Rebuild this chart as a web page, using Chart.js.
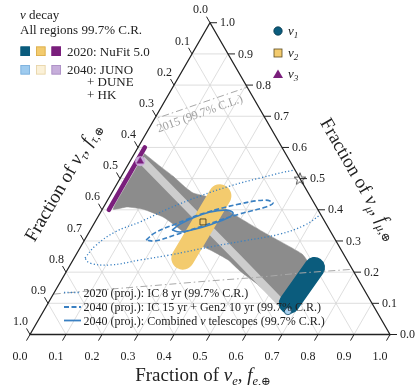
<!DOCTYPE html>
<html><head><meta charset="utf-8">
<script src="https://cdn.jsdelivr.net/npm/chart.js@4/dist/chart.umd.min.js"></script>
<style>html,body{margin:0;padding:0;background:#fff}#wrap{width:420px;height:385px;position:relative}</style>
</head><body><div id="wrap"><canvas id="c"></canvas></div>
<script>
// ---------- data: ternary fractions [f_e, f_mu]  (f_tau = 1 - f_e - f_mu) ----------
const tickValues = [0, 0.1, 0.2, 0.3, 0.4, 0.5, 0.6, 0.7, 0.8, 0.9, 1.0];
const tickLabels = ['0.0','0.1','0.2','0.3','0.4','0.5','0.6','0.7','0.8','0.9','1.0'];
const gridValues = [0.1, 0.2, 0.3, 0.4, 0.5, 0.6, 0.7, 0.8, 0.9];

const decay2020Region = [[0.028,0.580],[0.091,0.540],[0.143,0.508],[0.194,0.473],[0.226,0.454],[0.264,0.444],[0.298,0.431],[0.359,0.393],[0.483,0.329],[0.582,0.281],[0.627,0.258],[0.652,0.236],[0.663,0.207],[0.671,0.159],[0.667,0.111],[0.663,0.079],[0.634,0.104],[0.550,0.162],[0.481,0.204],[0.431,0.239],[0.372,0.268],[0.329,0.287],[0.277,0.319],[0.236,0.345],[0.181,0.377],[0.113,0.402],[0.065,0.409],[0.030,0.402],[0.028,0.490],[0.028,0.580]];
const decay2040Band = [[0.030,0.560],[0.240,0.404],[0.464,0.238],[0.655,0.095]];
const nu1Region2020 = [[0.683,0.215],[0.670,0.100]];
const nu2Region2020 = [[0.305,0.445],[0.302,0.245]];
const nu3Region2020 = [[0.019,0.600],[0.019,0.400]];
const ic2020Dotted = [[0.030,0.245],[0.039,0.284],[0.072,0.329],[0.125,0.361],[0.186,0.406],[0.250,0.444],[0.317,0.476],[0.388,0.502],[0.472,0.528],[0.535,0.540],[0.605,0.512],[0.643,0.463],[0.638,0.419],[0.614,0.383],[0.588,0.351],[0.533,0.322],[0.442,0.300],[0.360,0.281],[0.261,0.255],[0.186,0.239],[0.111,0.223],[0.052,0.229],[0.030,0.245]];
const ic2040Dashed = [[0.171,0.303],[0.184,0.326],[0.226,0.354],[0.291,0.390],[0.374,0.419],[0.437,0.431],[0.464,0.422],[0.451,0.409],[0.390,0.387],[0.311,0.351],[0.243,0.319],[0.197,0.300],[0.171,0.303]];
const combined2040Solid = [[0.227,0.335],[0.240,0.354],[0.270,0.377],[0.304,0.393],[0.342,0.399],[0.369,0.390],[0.363,0.374],[0.328,0.354],[0.289,0.338],[0.252,0.329],[0.227,0.335]];
const contour2015 = [[-0.043,0.669],[0.000,0.691],[0.105,0.743],[0.209,0.794],[0.257,0.819],[0.838,0.213],[0.731,0.204],[0.651,0.197],[0.547,0.184],[0.414,0.172],[0.256,0.156],[0.123,0.143],[0.005,0.130],[-0.040,0.125],[-0.043,0.669]];
const nu1Point = [0.679,0.075];
const nu2Point = [0.300,0.361];
const nu3Point = [0.028,0.556];
const sourcePoint = [0.5,0.5];

// ---------- helpers ----------
const S3 = Math.sqrt(3)/2;
const tern = p => ({x: p[0] + p[1]/2, y: p[1]*S3});
const T = arr => arr.map(tern);
const SERIF = '"Liberation Serif", "DejaVu Serif", serif';
const BLUE = '#0b5c7d', YEL = '#f3cb6e', PUR = '#7a1f7c', LINE = '#3a80c2';

const gridPts = [];
for (const v of gridValues) {
  gridPts.push(tern([v,1-v]), tern([v,0]), {x:null,y:null});
  gridPts.push(tern([0,v]), tern([1-v,v]), {x:null,y:null});
  gridPts.push(tern([1-v,0]), tern([0,1-v]), {x:null,y:null});
}

function starImg(){
  const c = document.createElement('canvas'); c.width = 16; c.height = 16;
  const g = c.getContext('2d'); g.beginPath();
  for (let i=0;i<10;i++){ const r = i%2?2.7:6.3; const a = -Math.PI/2 + i*Math.PI/5;
    const px = 8 + r*Math.cos(a), py = 8.5 + r*Math.sin(a); i?g.lineTo(px,py):g.moveTo(px,py); }
  g.closePath(); g.fillStyle='#fff'; g.fill(); g.strokeStyle='#555'; g.lineWidth=1; g.stroke();
  return c;
}

function rich(ctx, segs, x, y, angle, align){
  ctx.save(); ctx.translate(x,y); ctx.rotate(angle||0);
  ctx.textBaseline='alphabetic'; ctx.textAlign='left';
  let w=0; for (const s of segs){ ctx.font=s[1]; w+=ctx.measureText(s[0]).width; }
  let cx = align==='center' ? -w/2 : (align==='right' ? -w : 0);
  for (const s of segs){ ctx.font=s[1]; ctx.fillText(s[0], cx, s[2]||0); cx+=ctx.measureText(s[0]).width; }
  ctx.restore();
}

function triPath(chart){
  const xs=chart.scales.x, ys=chart.scales.y;
  const P = p => { const t=tern(p); return [xs.getPixelForValue(t.x), ys.getPixelForValue(t.y)]; };
  return [P([0,0]), P([1,0]), P([0,1])];
}

const clipPlugin = {
  id:'triClip',
  beforeDatasetDraw(chart,args){
    const ds = chart.data.datasets[args.index]; if(!ds.clipTri) return;
    const ctx = chart.ctx, t = triPath(chart);
    ctx.save(); ctx.beginPath(); ctx.moveTo(t[0][0],t[0][1]); ctx.lineTo(t[1][0],t[1][1]); ctx.lineTo(t[2][0],t[2][1]); ctx.closePath(); ctx.clip();
  },
  afterDatasetDraw(chart,args){
    const ds = chart.data.datasets[args.index]; if(ds.clipTri) chart.ctx.restore();
  }
};

const decoPlugin = {
  id:'deco',
  afterDatasetsDraw(chart){
    const ctx = chart.ctx, xs=chart.scales.x, ys=chart.scales.y;
    const P = p => { const t=tern(p); return [xs.getPixelForValue(t.x), ys.getPixelForValue(t.y)]; };
    const [tl, br, top] = [P([0,0]), P([1,0]), P([0,1])];
    ctx.save();
    // frame
    ctx.strokeStyle='#222'; ctx.lineWidth=1.3; ctx.lineJoin='miter';
    ctx.beginPath(); ctx.moveTo(tl[0],tl[1]); ctx.lineTo(br[0],br[1]); ctx.lineTo(top[0],top[1]); ctx.closePath(); ctx.stroke();
    // ticks & labels
    ctx.lineWidth=1; ctx.fillStyle='#222'; ctx.font='12px '+SERIF; ctx.textBaseline='middle';
    tickValues.forEach((v,i)=>{
      let b = P([v,0]);
      ctx.beginPath(); ctx.moveTo(b[0],b[1]); ctx.lineTo(b[0]-3.5,b[1]+6.1); ctx.stroke();
      ctx.textAlign='center'; ctx.fillText(tickLabels[i], b[0]-10, b[1]+22);
      b = P([0,1-v]);
      ctx.beginPath(); ctx.moveTo(b[0],b[1]); ctx.lineTo(b[0]-3.5,b[1]-6.1); ctx.stroke();
      ctx.textAlign='center'; ctx.fillText(tickLabels[i], b[0]-9.5, b[1]-12.5);
      b = P([1-v,v]);
      ctx.beginPath(); ctx.moveTo(b[0],b[1]); ctx.lineTo(b[0]+7,b[1]); ctx.stroke();
      ctx.textAlign='left'; ctx.fillText(tickLabels[i], b[0]+10, b[1]+0.5);
    });
    // axis titles
    ctx.fillStyle='#222';
    const F=size=>size+'px '+SERIF, I=size=>'italic '+size+'px '+SERIF;
    const title = (sub)=>[['Fraction of ',F(19)],['ν',I(19)],[sub,I(12.5),4],[', ',F(19)],['f',I(19)],[sub+',',I(12.5),4],['⊕',F(11.5),4]];
    rich(ctx, title('e'), 203, 381, 0, 'center');
    rich(ctx, title('τ'), 68, 185, -Math.PI/3, 'center');
    rich(ctx, title('μ'), 354, 182, Math.PI/3, 'center');
    // 2015 label
    ctx.fillStyle='#a0a0a0';
    rich(ctx, [['2015 (99.7% C.L.)',F(12)]], 201, 117, -0.35, 'center');
    // top-left legend
    ctx.fillStyle='#222';
    rich(ctx, [['ν',I(13)],[' decay',F(13)]], 20, 18.5, 0, 'left');
    rich(ctx, [['All regions 99.7% C.R.',F(13)]], 20, 33.5, 0, 'left');
    const sq = (x,y,fill,stroke)=>{ ctx.fillStyle=fill; ctx.fillRect(x,y,9.5,9.5); ctx.strokeStyle=stroke; ctx.lineWidth=0.8; ctx.strokeRect(x+0.4,y+0.4,8.7,8.7); };
    sq(20.5,46.5,BLUE,BLUE); sq(36,46.5,YEL,'#d9ac4c'); sq(51.5,46.5,PUR,PUR);
    sq(20.5,65,'#9ecbef','#7aaedb'); sq(36,65,'#fbf1d8','#e6d3a6'); sq(51.5,65,'#c7aedb','#a98dc2');
    ctx.fillStyle='#222';
    rich(ctx, [['2020: NuFit 5.0',F(13)]], 67, 55.5, 0, 'left');
    rich(ctx, [['2040: JUNO',F(13)]], 67, 74, 0, 'left');
    rich(ctx, [['+ DUNE',F(13)]], 87, 86, 0, 'left');
    rich(ctx, [['+ HK',F(13)]], 87, 99, 0, 'left');
    // top-right legend
    ctx.beginPath(); ctx.arc(278,31,4.2,0,2*Math.PI); ctx.fillStyle=BLUE; ctx.fill(); ctx.strokeStyle='#06384d'; ctx.lineWidth=0.8; ctx.stroke();
    ctx.fillStyle=YEL; ctx.fillRect(274,49,8,8); ctx.strokeStyle='#5a4a20'; ctx.strokeRect(274,49,8,8);
    ctx.beginPath(); ctx.moveTo(278,69.5); ctx.lineTo(283,78); ctx.lineTo(273,78); ctx.closePath(); ctx.fillStyle=PUR; ctx.fill();
    ctx.fillStyle='#222';
    rich(ctx, [['ν',I(13)],['1',I(9),3]], 288, 34.5, 0, 'left');
    rich(ctx, [['ν',I(13)],['2',I(9),3]], 288, 56.5, 0, 'left');
    rich(ctx, [['ν',I(13)],['3',I(9),3]], 288, 78, 0, 'left');
    // bottom line legend
    const sample=(y,dash,w)=>{ ctx.beginPath(); ctx.setLineDash(dash); ctx.strokeStyle=LINE; ctx.lineWidth=w; ctx.moveTo(64,y); ctx.lineTo(81,y); ctx.stroke(); ctx.setLineDash([]); };
    sample(292.5,[1.2,2.2],1.4); sample(307,[5,2.5],1.8); sample(320.5,[],1.8);
    ctx.fillStyle='#222';
    rich(ctx, [['2020 (proj.): IC 8 yr (99.7% C.R.)',F(12)]], 83.5, 296.5, 0, 'left');
    rich(ctx, [['2040 (proj.): IC 15 yr + Gen2 10 yr (99.7% C.R.)',F(12)]], 83.5, 311, 0, 'left');
    rich(ctx, [['2040 (proj.): Combined ',F(12)],['ν',I(12)],[' telescopes (99.7% C.R.)',F(12)]], 83.5, 324.5, 0, 'left');
    ctx.restore();
  }
};

const base = {showLine:true, pointRadius:0, fill:false, tension:0};
const datasets = [
  {...base, label:'grid', data:gridPts, borderColor:'#d6d6d6', borderWidth:0.8, spanGaps:false, order:100},
  {...base, label:'decay 2020', data:T(decay2020Region), fill:'shape', backgroundColor:'#8c8c8c', borderColor:'#8c8c8c', borderWidth:0.5, tension:0.15, order:90},
  {...base, label:'decay 2040', data:T(decay2040Band), borderColor:'#cdcdcd', borderWidth:8, order:85},
  {...base, label:'nu2 2020', data:T(nu2Region2020), borderColor:YEL, borderWidth:23, borderCapStyle:'round', order:80},
  {...base, label:'nu1 2020', data:T(nu1Region2020), borderColor:BLUE, borderWidth:21, borderCapStyle:'round', order:80},
  {...base, label:'nu3 2020', data:T(nu3Region2020), borderColor:PUR, borderWidth:4.5, borderCapStyle:'round', order:80},
  {...base, label:'IC 2020', data:T(ic2020Dotted), borderColor:LINE, borderWidth:1.3, borderDash:[1.2,2.2], tension:0.4, clipTri:true, order:70},
  {...base, label:'IC 2040', data:T(ic2040Dashed), borderColor:LINE, borderWidth:1.6, borderDash:[5,2.5], tension:0.4, order:65},
  {...base, label:'Combined 2040', data:T(combined2040Solid), borderColor:LINE, borderWidth:1.6, tension:0.4, order:60},
  {...base, label:'2015', data:T(contour2015), borderColor:'#a8a8a8', borderWidth:1, borderDash:[7,3,1.5,3], clipTri:true, order:55},
  {label:'nu1', data:[tern(nu1Point)], pointStyle:'circle', pointRadius:3.6, backgroundColor:'#a9d0ef', borderColor:'#0a4a66', borderWidth:0.8, order:5},
  {label:'nu2', data:[tern(nu2Point)], pointStyle:'rect', pointRadius:4.2, backgroundColor:YEL, borderColor:'#4a3c18', borderWidth:0.9, order:5},
  {label:'nu3 light', data:[tern(nu3Point)], pointStyle:'circle', pointRadius:5, backgroundColor:'#c9a9d9', borderWidth:0, order:6},
  {label:'nu3', data:[tern(nu3Point)], pointStyle:'triangle', pointRadius:4, backgroundColor:PUR, borderColor:PUR, borderWidth:0.5, order:5},
  {label:'source', data:[tern(sourcePoint)], pointStyle:starImg(), pointRadius:6, order:5}
];

new Chart(document.getElementById('c'), {
  type:'scatter',
  data:{datasets},
  options:{
    responsive:true, maintainAspectRatio:false, animation:false,
    layout:{padding:0, autoPadding:false},
    scales:{
      x:{type:'linear', display:false, min:-30/360, max:390/360},
      y:{type:'linear', display:false, min:-50.5/360, max:334.5/360}
    },
    plugins:{legend:{display:false}, tooltip:{enabled:false}},
    elements:{line:{capBezierPoints:false}}
  },
  plugins:[clipPlugin, decoPlugin]
});
</script></body></html>
